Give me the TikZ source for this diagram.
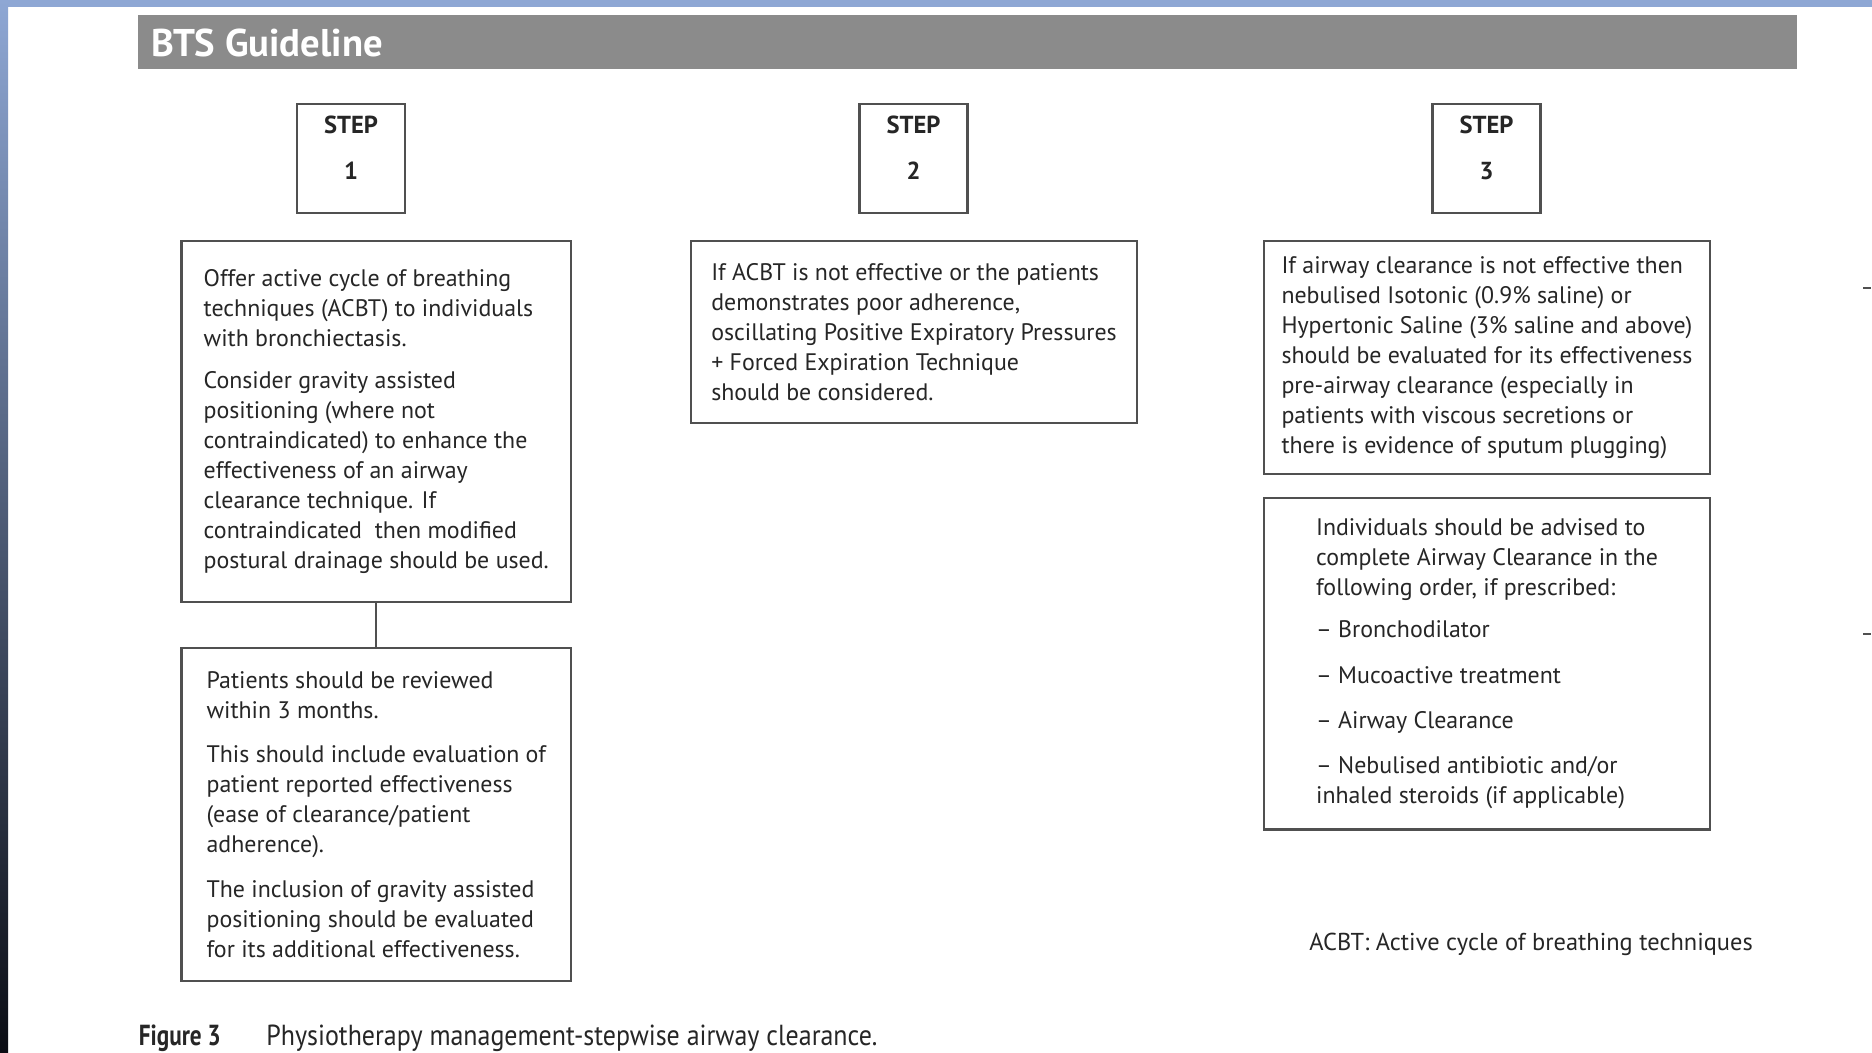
\documentclass[tikz,border=0pt]{standalone}
\usepackage{fontspec}
\setmainfont{PT Sans}
\newfontfamily\narrowfont[FakeStretch=0.895,BoldFeatures={FakeStretch=0.80}]{PT Sans}
\usetikzlibrary{positioning}
\definecolor{Frame}{HTML}{8EA7D4}
\definecolor{FrameMid}{HTML}{3A4863}
\definecolor{FrameDark}{HTML}{0B0D14}
\definecolor{Bar}{HTML}{8B8B8B}
\definecolor{Ink}{HTML}{262626}
\definecolor{Edge}{HTML}{505050}

\begin{document}
\begin{tikzpicture}[x=0.02cm,y=-0.02cm,
  panel/.style={draw=Edge,line width=1.2pt,align=left,inner sep=0pt,text=Ink,
    font=\fontsize{13.6}{17.1}\selectfont},
  stepbox/.style={draw=Edge,line width=1.2pt,minimum width=2.16cm,minimum height=2.18cm,inner sep=0pt},
  steplabel/.style={align=center,inner sep=0pt,text=Ink,font=\bfseries\fontsize{14}{17}\selectfont},
  plain/.style={inner sep=0pt,text=Ink,anchor=base west}]
  \useasboundingbox (0,0) rectangle (1872,1052);
  \fill[white] (0,0) rectangle (1872,1052);
  \fill[Frame] (0,0) rectangle (1872,7);
  \shade[top color=Frame,middle color=FrameMid,bottom color=FrameDark] (0,0) rectangle (8,1052);
  \draw[Edge,line width=1.5pt] (1863,288) -- (1871,288);
  \draw[Edge,line width=1.5pt] (1863,634) -- (1871,634);
  \fill[Bar] (138,15) rectangle (1797,69);
  \node[plain,text=white,font=\bfseries\fontsize{22}{26}\selectfont] (title) at (151,56) {BTS Guideline};
  \foreach \i/\x in {1/351,2/913.5,3/1486.5} {
    \node[stepbox] (step\i) at (\x,158.5) {};
    \node[steplabel] (steplab\i) at (\x,148) {STEP\\[9pt]\i};
  }
  \node[panel,minimum width=7.79cm,minimum height=7.22cm] (offer) at (376.25,421.5) {%
    Offer active cycle of breathing\\
    techniques (ACBT) to individuals\\
    with bronchiectasis.\\[7pt]
    Consider gravity assisted\\
    positioning (where not\\
    contraindicated) to enhance the\\
    effectiveness of an airway\\
    clearance technique. If\\
    contraindicated\ \ then modified\\
    postural drainage should be used.};
  \node[panel,minimum width=7.79cm,minimum height=6.66cm,below=0.88cm of offer] (review) {%
    Patients should be reviewed\\
    within 3 months.\\[8pt]
    This should include evaluation of\\
    patient reported effectiveness\\
    (ease of clearance/patient\\
    adherence).\\[8pt]
    The inclusion of gravity assisted\\
    positioning should be evaluated\\
    for its additional effectiveness.};
  \draw[Edge,line width=1.2pt] (offer.south) -- (review.north);
  \node[panel,minimum width=8.92cm,minimum height=3.64cm] (oscill) at (914,332) {%
    If ACBT is not effective or the patients\\
    demonstrates poor adherence,\\
    oscillating Positive Expiratory Pressures\\
    + Forced Expiration Technique\\
    should be considered.};
  \node[panel,minimum width=8.92cm,minimum height=4.66cm] (saline) at (1487,357.5) {%
    If airway clearance is not effective then\\
    nebulised Isotonic (0.9\% saline) or\\
    Hypertonic Saline (3\% saline and above)\\
    should be evaluated for its effectiveness\\
    pre-airway clearance (especially in\\
    patients with viscous secretions or\\
    there is evidence of sputum plugging)};
  \node[panel,minimum width=8.92cm,minimum height=6.64cm,below=0.43cm of saline] (order) {%
    Individuals should be advised to\\
    complete Airway Clearance in the\\
    following order, if prescribed:\\[7pt]
    -- Bronchodilator\\[9pt]
    -- Mucoactive treatment\\[8.5pt]
    -- Airway Clearance\\[8.5pt]
    -- Nebulised antibiotic and/or\\
    inhaled steroids (if applicable)};
  \node[plain,font=\fontsize{13.9}{17.1}\selectfont] (abbrev) at (1309,950) {ACBT: Active cycle of breathing techniques};
  \node[plain,font=\narrowfont\fontsize{16.5}{20}\selectfont] (caption) at (138.5,1045) {\textbf{Figure 3}\hspace{26pt}Physiotherapy management-stepwise airway clearance.};
\end{tikzpicture}
\end{document}
